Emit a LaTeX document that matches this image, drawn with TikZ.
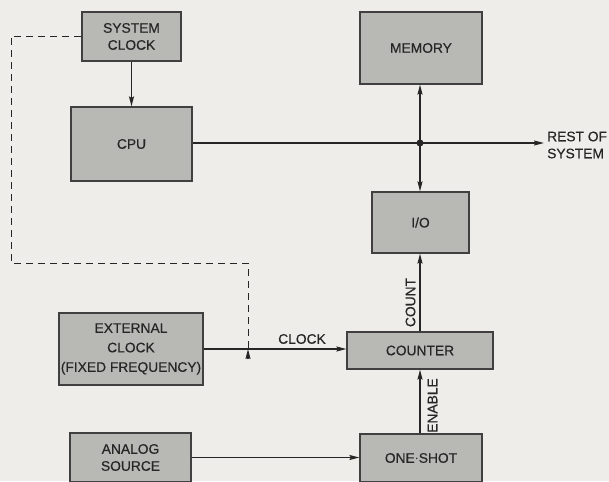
\documentclass[tikz,border=0pt]{standalone}
\usepackage{fontspec}
\setmainfont{Liberation Sans}[FakeBold=0.4]
\usetikzlibrary{arrows.meta}
\definecolor{bgc}{HTML}{EEEDE9}
\definecolor{boxc}{HTML}{B8B8B5}
\definecolor{inkc}{HTML}{262626}
\definecolor{edgec}{HTML}{404040}
\tikzset{
  blk/.style={draw=edgec, line width=1.2pt, fill=boxc, text=inkc, align=center, inner sep=0pt,
    font=\fontsize{13.8}{17}\selectfont},
  wire/.style={draw=inkc, line width=1.3pt},
  tip/.style={-{Stealth[length=10pt,width=5pt,inset=1.5pt]}},
  dsh/.style={draw=inkc, line width=1pt, dash pattern=on 7pt off 5pt},
  lbl/.style={text=inkc, inner sep=0pt, font=\fontsize{13.8}{17}\selectfont}
}
\begin{document}
\begin{tikzpicture}[x=1pt,y=-1pt]
\fill[bgc] (0,0) rectangle (609,481);
\useasboundingbox (0,0) rectangle (609,481);
% blocks
\node[blk, minimum width=99pt, minimum height=49pt] (sysclk) at (131.5,36.5) {SYSTEM\\CLOCK};
\node[blk, minimum width=121pt, minimum height=74pt] (cpu) at (131.5,144) {CPU};
\node[blk, minimum width=122pt, minimum height=72pt] (mem) at (421,48) {MEMORY};
\node[blk, minimum width=97pt, minimum height=61pt] (io) at (420.5,222.5) {I/O};
\node[blk, minimum width=146pt, minimum height=37pt] (counter) at (420,350.5) {COUNTER};
\node[blk, minimum width=122pt, minimum height=48pt] (oneshot) at (421,458) {ONE$\cdot$SHOT};
\node[blk, minimum width=144pt, minimum height=72pt, font=\fontsize{13.8}{19.5}\selectfont] (extclk) at (131,349) {EXTERNAL\\CLOCK\\(FIXED FREQUENCY)};
\node[blk, minimum width=121pt, minimum height=49pt] (analog) at (130.5,457.5) {ANALOG\\SOURCE};
% junction and bus
\coordinate (j) at (420,143);
\coordinate (rest) at (544,143);
\node[lbl, anchor=west, align=left] (resttxt) at (547,145) {REST OF\\SYSTEM};
\draw[wire] (cpu.east |- j) -- (j);
\draw[wire, tip] (j) -- (rest);
\draw[wire, tip] (j) -- (j |- mem.south);
\draw[wire, tip] (j) -- (j |- io.north);
\fill[inkc] (j) circle (3.5pt);
% system clock to cpu
\draw[wire, tip] (sysclk.south) -- (cpu.north);
% counter to io
\draw[wire, tip] (counter.north) -- (counter.north |- io.south);
\node[lbl, rotate=90] (cnt) at (410.5,302.5) {COUNT};
% one-shot to counter
\draw[wire, tip] (counter.south |- oneshot.north) -- (counter.south);
\node[lbl, rotate=90] (enb) at (432.5,405.5) {ENABLE};
% clock line
\draw[wire, tip] (extclk.east) -- (extclk.east -| counter.west);
\node[lbl] (clk) at (302,339) {CLOCK};
% analog to one-shot
\draw[wire, tip] (analog.east) -- (analog.east -| oneshot.west);
% dashed path
\coordinate (dl) at (11,263);
\coordinate (dr) at (248,263);
\coordinate (dend) at (248,349);
\draw[dsh] (sysclk.west) -| (dl) -- (dr) -- ([yshift=-9pt]dend);
\draw[wire, tip] ([yshift=-10pt]dend) -- (dend);
\end{tikzpicture}
\end{document}
